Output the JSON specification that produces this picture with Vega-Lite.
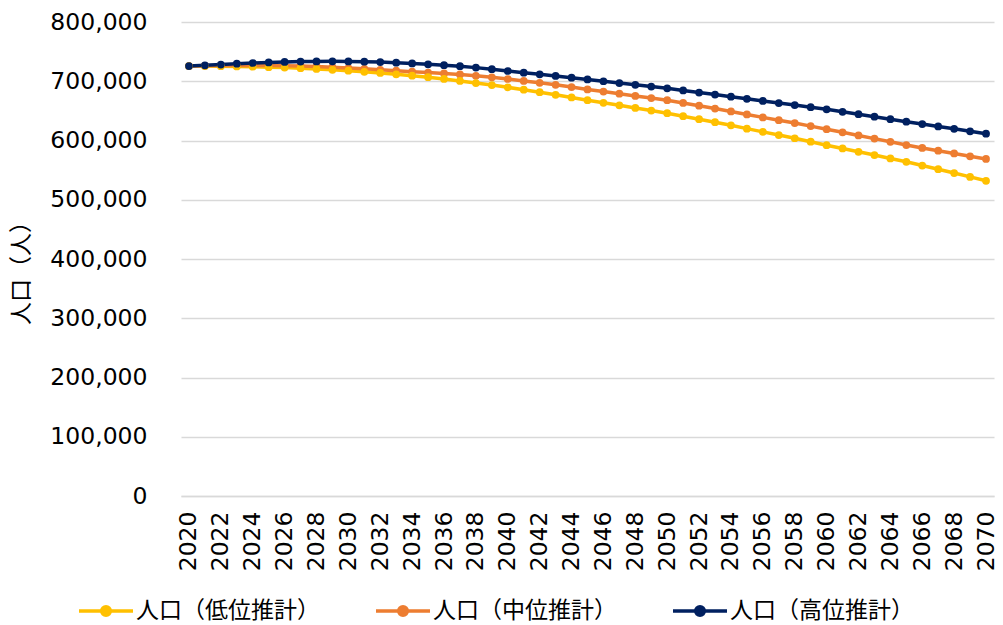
{
  "$schema": "https://vega.github.io/schema/vega-lite/v6.json",
  "autosize": {"type": "none"},
  "padding": {"left": 181, "top": 22, "right": 9, "bottom": 129},
  "width": 813,
  "height": 474,
  "background": "white",
  "config": {
    "view": {"stroke": null},
    "axis": {"labelFont": "DejaVu Sans", "labelColor": "#000000", "titleColor": "#000000"}
  },
  "data": {
    "values": [
      {"year": 2020, "low": 725700, "mid": 725700, "high": 725700},
      {"year": 2021, "low": 725600, "mid": 726000, "high": 726800},
      {"year": 2022, "low": 725400, "mid": 726400, "high": 728200},
      {"year": 2023, "low": 725000, "mid": 726600, "high": 729600},
      {"year": 2024, "low": 724500, "mid": 726700, "high": 730800},
      {"year": 2025, "low": 723800, "mid": 726600, "high": 731800},
      {"year": 2026, "low": 723000, "mid": 726300, "high": 732600},
      {"year": 2027, "low": 722000, "mid": 725800, "high": 733200},
      {"year": 2028, "low": 720800, "mid": 725000, "high": 733500},
      {"year": 2029, "low": 719400, "mid": 723800, "high": 733600},
      {"year": 2030, "low": 717800, "mid": 722300, "high": 733500},
      {"year": 2031, "low": 716000, "mid": 720900, "high": 733000},
      {"year": 2032, "low": 714000, "mid": 719400, "high": 732300},
      {"year": 2033, "low": 711800, "mid": 717800, "high": 731300},
      {"year": 2034, "low": 709400, "mid": 716200, "high": 730000},
      {"year": 2035, "low": 706800, "mid": 714600, "high": 728600},
      {"year": 2036, "low": 703900, "mid": 713100, "high": 727100},
      {"year": 2037, "low": 700600, "mid": 711400, "high": 725400},
      {"year": 2038, "low": 697000, "mid": 709200, "high": 723000},
      {"year": 2039, "low": 693500, "mid": 706600, "high": 720300},
      {"year": 2040, "low": 689700, "mid": 703800, "high": 717300},
      {"year": 2041, "low": 685700, "mid": 700600, "high": 714500},
      {"year": 2042, "low": 681600, "mid": 697300, "high": 711800},
      {"year": 2043, "low": 677200, "mid": 694000, "high": 709000},
      {"year": 2044, "low": 672700, "mid": 690200, "high": 706000},
      {"year": 2045, "low": 668000, "mid": 686200, "high": 703000},
      {"year": 2046, "low": 663600, "mid": 682600, "high": 700000},
      {"year": 2047, "low": 659400, "mid": 679000, "high": 697000},
      {"year": 2048, "low": 655000, "mid": 675200, "high": 694000},
      {"year": 2049, "low": 650600, "mid": 671600, "high": 691000},
      {"year": 2050, "low": 646000, "mid": 668000, "high": 688000},
      {"year": 2051, "low": 641000, "mid": 663400, "high": 684500},
      {"year": 2052, "low": 636000, "mid": 658800, "high": 681000},
      {"year": 2053, "low": 630900, "mid": 654000, "high": 677500},
      {"year": 2054, "low": 625600, "mid": 649100, "high": 674000},
      {"year": 2055, "low": 620000, "mid": 644000, "high": 670300},
      {"year": 2056, "low": 614600, "mid": 639000, "high": 666800},
      {"year": 2057, "low": 609200, "mid": 634300, "high": 663200},
      {"year": 2058, "low": 603800, "mid": 629400, "high": 659800},
      {"year": 2059, "low": 598000, "mid": 624300, "high": 656200},
      {"year": 2060, "low": 592000, "mid": 619000, "high": 652600},
      {"year": 2061, "low": 586600, "mid": 613800, "high": 648500},
      {"year": 2062, "low": 581000, "mid": 608500, "high": 644400},
      {"year": 2063, "low": 575400, "mid": 603200, "high": 640200},
      {"year": 2064, "low": 569700, "mid": 597800, "high": 636000},
      {"year": 2065, "low": 564000, "mid": 592400, "high": 631800},
      {"year": 2066, "low": 557800, "mid": 587500, "high": 627800},
      {"year": 2067, "low": 551500, "mid": 582800, "high": 623800},
      {"year": 2068, "low": 545100, "mid": 578100, "high": 619700},
      {"year": 2069, "low": 538600, "mid": 573400, "high": 615600},
      {"year": 2070, "low": 532000, "mid": 568800, "high": 611500}
    ]
  },
  "transform": [
    {"fold": ["low", "mid", "high"], "as": ["series", "population"]}
  ],
  "encoding": {
    "x": {
      "field": "year",
      "type": "ordinal",
      "scale": {"type": "point", "padding": 0.5},
      "axis": {
        "title": null,
        "values": [2020,2022,2024,2026,2028,2030,2032,2034,2036,2038,2040,2042,2044,2046,2048,2050,2052,2054,2056,2058,2060,2062,2064,2066,2068,2070],
        "labelAngle": -90,
        "labelFontSize": 23.5,
        "labelPadding": 15,
        "ticks": false,
        "domain": true,
        "domainColor": "#D9D9D9",
        "domainWidth": 1.3,
        "grid": false
      }
    },
    "y": {
      "field": "population",
      "type": "quantitative",
      "scale": {"domain": [0, 800000], "nice": false},
      "axis": {
        "title": "人口（人）",
        "titleFont": "Noto Sans CJK JP",
        "titleFontSize": 23,
        "titleFontWeight": "normal",
        "titleX": -160,
        "titleY": 245,
        "titleAlign": "center",
        "titleBaseline": "middle",
        "titleAngle": -90,
        "values": [0,100000,200000,300000,400000,500000,600000,700000,800000],
        "format": ",d",
        "labelFontSize": 23.5,
        "labelPadding": 34,
        "ticks": false,
        "domain": false,
        "grid": true,
        "gridColor": "#D9D9D9",
        "gridWidth": 1.3
      }
    },
    "color": {
      "field": "series",
      "type": "nominal",
      "scale": {"domain": ["low", "mid", "high"], "range": ["#FFC000", "#ED7D31", "#002060"]},
      "legend": {
        "title": null,
        "orient": "none",
        "direction": "horizontal",
        "legendX": -104,
        "legendY": 560,
        "padding": 0,
        "columnPadding": 49,
        "labelExpr": "{'low': '人口（低位推計）', 'mid': '人口（中位推計）', 'high': '人口（高位推計）'}[datum.value]",
        "labelFont": "Noto Sans CJK JP",
        "labelFontSize": 23,
        "labelColor": "#000000",
        "labelOffset": 1,
        "labelLimit": 400,
        "symbolType": "M-1,0L1,0M-0.16,0A0.16,0.16,0,1,0,0.16,0A0.16,0.16,0,1,0,-0.16,0",
        "symbolSize": 2916,
        "symbolStrokeWidth": 3.5,
        "encode": {
          "symbols": {"update": {"fill": {"scale": "color", "field": "value"}, "opacity": {"value": 1}}}
        }
      }
    }
  },
  "layer": [
    {"mark": {"type": "line", "strokeWidth": 3.5}},
    {
      "mark": {"type": "point", "filled": true, "size": 60, "opacity": 1},
      "encoding": {"order": {"field": "series", "sort": "descending"}}
    }
  ]
}
